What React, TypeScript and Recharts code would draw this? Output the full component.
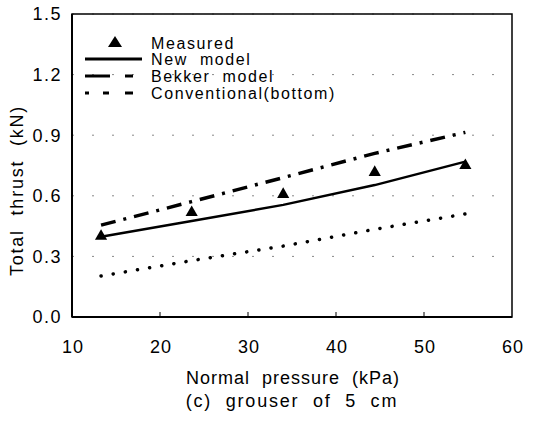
import React from 'react';
import { ComposedChart, Line, Scatter, XAxis, YAxis, CartesianGrid, Label, ReferenceArea } from 'recharts';

const pressure = [13.3, 23.6, 34.0, 44.4, 54.7];
const measured = [0.40, 0.517, 0.607, 0.716, 0.75];
const newModel = [0.397, 0.475, 0.555, 0.653, 0.769];
const bekker = [0.455, 0.571, 0.69, 0.81, 0.914];
const conventional = [0.203, 0.279, 0.351, 0.434, 0.51];

const xTicks = [10, 20, 30, 40, 50, 60];
const yTicks = [0, 0.3, 0.6, 0.9, 1.2, 1.5];
const seriesNames = ['Measured', 'New  model', 'Bekker  model', 'Conventional(bottom)'];
const xTitle = 'Normal  pressure  (kPa)';
const yTitle = 'Total  thrust  (kN)';
const caption = '(c)  grouser  of  5  cm';

const data = pressure.map((p, i) => ({
  p,
  measured: measured[i],
  newModel: newModel[i],
  bekker: bekker[i],
  conventional: conventional[i],
}));

const FONT = '"Liberation Sans", Arial, sans-serif';

const XTick = (props: any) => {
  const { x, y, payload } = props;
  const v = payload.value;
  const inner = v !== 10 && v !== 60;
  return (
    <g>
      {inner && <line x1={x} y1={y} x2={x} y2={y - 5} stroke="#000" strokeWidth={1} />}
      <text x={x + 1} y={y + 36} textAnchor="middle" fontSize={18} letterSpacing={1} fontFamily={FONT} fill="#000">{v}</text>
    </g>
  );
};

const YTick = (props: any) => {
  const { x, y, payload } = props;
  return (
    <text x={x} y={y} dy="0.36em" textAnchor="end" fontSize={18} letterSpacing={1.5} fontFamily={FONT} fill="#000">
      {Number(payload.value).toFixed(1)}
    </text>
  );
};

const LegendOverlay = () => {
  const rowY = [43, 59, 76, 93];
  return (
    <svg width={541} height={120} style={{ position: 'absolute', left: 0, top: 0, pointerEvents: 'none' }}>
      <polygon points={`115,36 108,47 122,47`} fill="#000" />
      <line x1={85} x2={142} y1={rowY[1]} y2={rowY[1]} stroke="#000" strokeWidth={3} />
      <line x1={85} x2={110} y1={rowY[2]} y2={rowY[2]} stroke="#000" strokeWidth={3} />
      <line x1={125} x2={133} y1={rowY[2]} y2={rowY[2]} stroke="#000" strokeWidth={3} />
      <line x1={85} x2={89} y1={rowY[3]} y2={rowY[3]} stroke="#000" strokeWidth={3} />
      <line x1={103} x2={109} y1={rowY[3]} y2={rowY[3]} stroke="#000" strokeWidth={3} />
      <line x1={125} x2={133} y1={rowY[3]} y2={rowY[3]} stroke="#000" strokeWidth={3} />
      {seriesNames.map((n, i) => (
        <text key={n} x={151} y={rowY[i]} dy="0.36em" fontSize={16} letterSpacing={1.6} fontFamily={FONT} fill="#000" style={{ whiteSpace: 'pre' }}>
          {n}
        </text>
      ))}
    </svg>
  );
};

export default function App() {
  return (
    <div style={{ position: 'absolute', left: 0, top: 0, width: 541, height: 422, background: '#fff' }}>
      <ComposedChart width={541} height={422} data={data} margin={{ top: 14, right: 29, bottom: 75, left: 0 }}>
        <CartesianGrid vertical={false} stroke="#888" strokeDasharray="2 18" />
        <ReferenceArea x1={10} x2={60} y1={0} y2={1.5} fill="none" stroke="#000" strokeWidth={1.5} ifOverflow="visible" />
        <XAxis
          dataKey="p"
          type="number"
          domain={[10, 60]}
          ticks={xTicks}
          interval={0}
          height={30}
          tickSize={0}
          tickMargin={0}
          tick={<XTick />}
          axisLine={{ stroke: '#000', strokeWidth: 2 }}
        >
          <Label
            content={(p: any) => {
              const vb = p.viewBox;
              const cx = vb.x + vb.width / 2;
              return (
                <g>
                  <text x={cx + 1} y={vb.y + 61} dy="0.36em" textAnchor="middle" fontSize={18} letterSpacing={1} fontFamily={FONT} fill="#000" style={{ whiteSpace: 'pre' }}>{xTitle}</text>
                  <text x={cx} y={vb.y + 84} dy="0.36em" textAnchor="middle" fontSize={18} letterSpacing={1.8} fontFamily={FONT} fill="#000" style={{ whiteSpace: 'pre' }}>{caption}</text>
                </g>
              );
            }}
          />
        </XAxis>
        <YAxis
          type="number"
          domain={[0, 1.5]}
          ticks={yTicks}
          interval={0}
          width={72}
          tickSize={0}
          tickMargin={10}
          tickLine={false}
          tick={<YTick />}
          axisLine={{ stroke: '#000', strokeWidth: 2 }}
        >
          <Label
            content={(p: any) => {
              const vb = p.viewBox;
              const cx = 17;
              const cy = vb.y + vb.height / 2 + 25;
              return (
                <text x={cx} y={cy} dy="0.36em" textAnchor="middle" fontSize={18} letterSpacing={1.8} fontFamily={FONT} fill="#000" transform={`rotate(-90 ${cx} ${cy})`} style={{ whiteSpace: 'pre' }}>{yTitle}</text>
              );
            }}
          />
        </YAxis>
        <Line dataKey="conventional" name={seriesNames[3]} stroke="#000" strokeWidth={3.5} strokeLinecap="round" strokeDasharray="0.1 12.2" dot={false} isAnimationActive={false} />
        <Line dataKey="bekker" name={seriesNames[2]} stroke="#000" strokeWidth={3.5} strokeDasharray="15 8 3 8" dot={false} isAnimationActive={false} />
        <Line dataKey="newModel" name={seriesNames[1]} stroke="#000" strokeWidth={2.5} dot={false} isAnimationActive={false} />
        <Scatter dataKey="measured" name={seriesNames[0]} fill="#000" shape="triangle" isAnimationActive={false} />
      </ComposedChart>
      <LegendOverlay />
    </div>
  );
}
